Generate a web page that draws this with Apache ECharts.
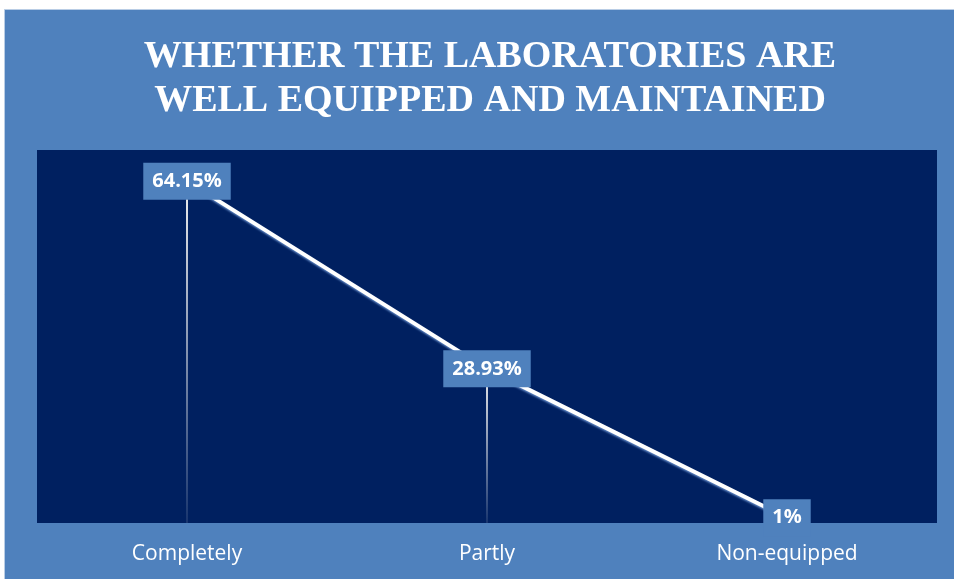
<!DOCTYPE html>
<html>
<head>
<meta charset="utf-8">
<script src="https://cdn.jsdelivr.net/npm/echarts@6/dist/echarts.min.js"></script>
<style>html,body{margin:0;padding:0;background:#fff}#c{width:954px;height:579px}</style>
</head>
<body>
<div id="c"></div>
<script>
const categories = ['Completely', 'Partly', 'Non-equipped'];
const values = [64.15, 28.93, 1];
const labels = ['64.15%', '28.93%', '1%'];

const chart = echarts.init(document.getElementById('c'), null, {renderer: 'canvas'});
chart.setOption({
  backgroundColor: '#ffffff',
  animation: false,
  graphic: [{
    type: 'rect', z: -10, silent: true,
    shape: {x: 4.5, y: 9.5, width: 960, height: 580},
    style: {fill: '#4F81BD', stroke: '#B9CDE5', lineWidth: 1}
  }],
  title: {
    text: 'WHETHER THE LABORATORIES ARE\nWELL EQUIPPED AND MAINTAINED',
    left: 485, textAlign: 'center', top: 30,
    textStyle: {
      color: '#ffffff', fontFamily: 'Liberation Serif', fontWeight: 'bold',
      fontSize: 38, lineHeight: 44
    }
  },
  grid: {
    left: 37, right: 17, top: 150, bottom: 56,
    show: true, backgroundColor: '#002060', borderWidth: 0
  },
  xAxis: {
    type: 'category', data: categories, boundaryGap: true,
    axisLine: {show: false}, axisTick: {show: false},
    axisLabel: {color: '#ffffff', fontSize: 21, fontFamily: 'Open Sans', margin: 21}
  },
  yAxis: {
    type: 'value', min: 0, max: 70, show: false,
    splitLine: {show: false}
  },
  series: [{
    type: 'bar', data: values, barWidth: 2, z: 1, silent: true,
    itemStyle: {
      color: {type: 'linear', x: 0, y: 0, x2: 0, y2: 1, colorStops: [
        {offset: 0, color: 'rgba(240,240,240,1)'},
        {offset: 1, color: 'rgba(240,240,240,0.1)'}
      ]}
    }
  }, {
    type: 'line', data: values, z: 2,
    symbol: 'circle', symbolSize: 1, showSymbol: true,
    itemStyle: {color: '#ffffff'},
    lineStyle: {color: '#ffffff', width: 4, shadowColor: 'rgba(120,160,220,0.8)', shadowBlur: 2, shadowOffsetX: 1, shadowOffsetY: 2},
    label: {
      show: true, position: 'inside',
      formatter: p => labels[p.dataIndex],
      color: '#ffffff', fontWeight: 'bold', fontSize: 20, fontFamily: 'Open Sans',
      backgroundColor: '#4F81BD', padding: [9, 9, 8, 9]
    }
  }]
});
</script>
</body>
</html>
